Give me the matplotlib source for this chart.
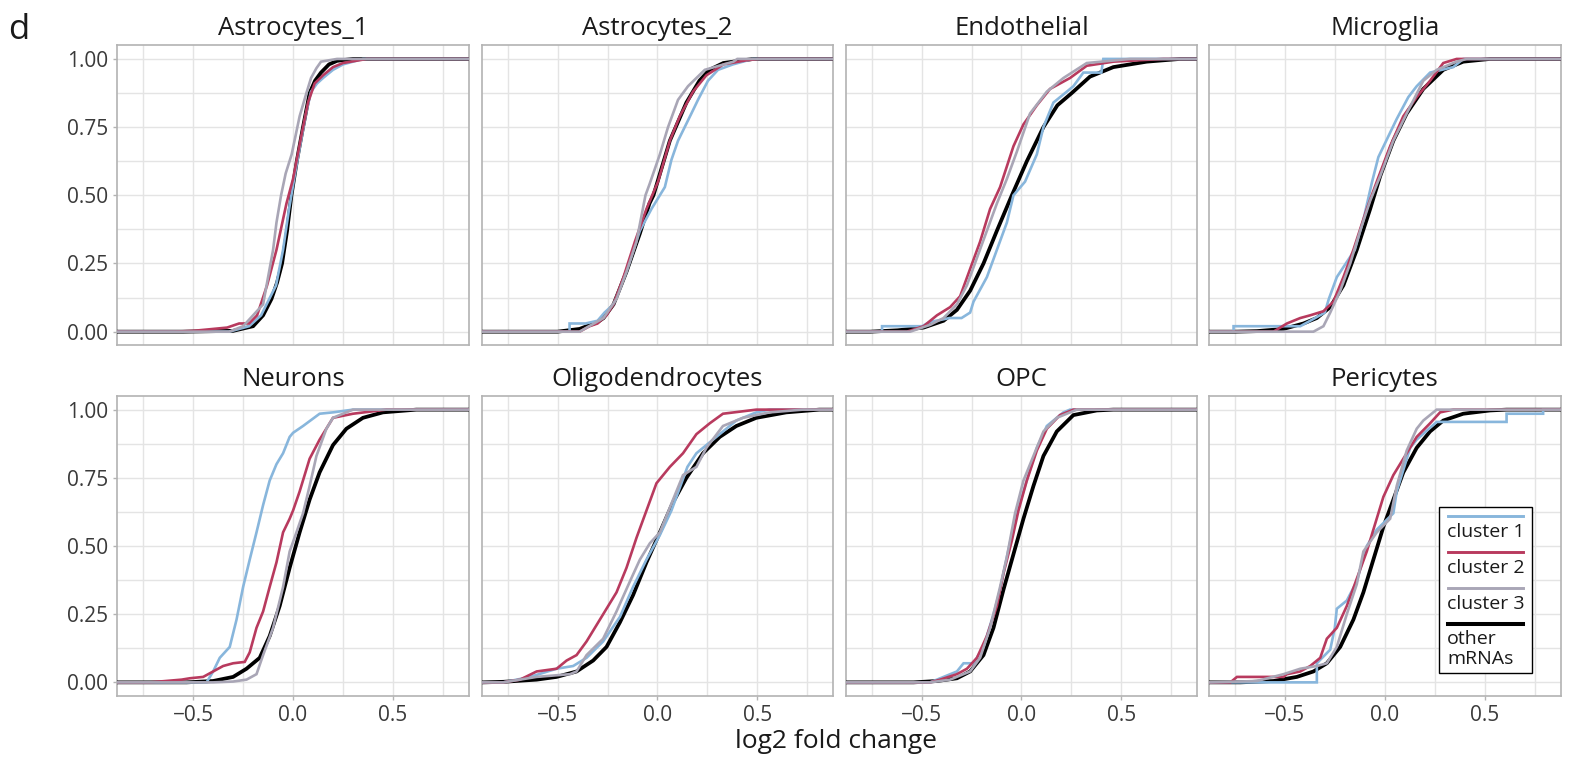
import matplotlib
matplotlib.use("Agg")
import matplotlib.pyplot as plt
from matplotlib.lines import Line2D
from matplotlib.patches import Rectangle
import numpy as np

plt.rcParams['font.family'] = ['Open Sans', 'DejaVu Sans']

# ---- data: points (log2 fold change, cumulative fraction)
panel_names = ["Astrocytes_1", "Astrocytes_2", "Endothelial", "Microglia",
               "Neurons", "Oligodendrocytes", "OPC", "Pericytes"]
series_names = ["cluster 1", "cluster 2", "cluster 3", "other\nmRNAs"]

ast1_other = [(-0.55, 0.0), (-0.3, 0.003), (-0.2, 0.02), (-0.15, 0.06), (-0.108, 0.12), (-0.08, 0.18),
              (-0.055, 0.25), (-0.03, 0.37), (-0.008, 0.5), (0.02, 0.63), (0.05, 0.75), (0.083, 0.875),
              (0.11, 0.92), (0.14, 0.95), (0.18, 0.98), (0.22, 0.993), (0.3, 1.0)]
ast1_c1 = [(-0.32, 0.0), (-0.22, 0.02), (-0.16, 0.06), (-0.085, 0.17), (-0.05, 0.3), (-0.02, 0.45),
           (0.01, 0.58), (0.04, 0.7), (0.065, 0.8), (0.09, 0.88), (0.12, 0.91), (0.15, 0.93),
           (0.2, 0.96), (0.25, 0.98), (0.3, 0.99), (0.35, 1.0)]
ast1_c2 = [(-0.6, 0.0), (-0.5, 0.003), (-0.4, 0.01), (-0.33, 0.015), (-0.27, 0.03), (-0.22, 0.03),
           (-0.18, 0.06), (-0.13, 0.17), (-0.083, 0.3), (-0.033, 0.47), (0.0, 0.56), (0.042, 0.72),
           (0.075, 0.84), (0.108, 0.91), (0.15, 0.94), (0.2, 0.97), (0.25, 0.985), (0.37, 1.0)]
ast1_c3 = [(-0.32, 0.0), (-0.25, 0.02), (-0.2, 0.06), (-0.15, 0.1), (-0.125, 0.2), (-0.1, 0.3),
           (-0.083, 0.4), (-0.06, 0.5), (-0.037, 0.58), (-0.007, 0.65), (0.033, 0.79), (0.067, 0.875),
           (0.09, 0.93), (0.117, 0.966), (0.14, 0.99), (0.22, 1.0)]

ast2_other = [(-0.5, 0.0), (-0.39, 0.01), (-0.3, 0.035), (-0.27, 0.05), (-0.22, 0.1), (-0.155, 0.22),
              (-0.088, 0.36), (-0.04, 0.47), (-0.02, 0.5), (0.062, 0.7), (0.145, 0.84), (0.21, 0.92),
              (0.26, 0.96), (0.33, 0.985), (0.48, 1.0)]
ast2_c1 = [(-0.505, 0.0), (-0.44, 0.0), (-0.44, 0.03), (-0.36, 0.03), (-0.3, 0.04), (-0.265, 0.07),
           (-0.22, 0.1), (-0.155, 0.22), (-0.088, 0.37), (-0.03, 0.45), (0.037, 0.53), (0.07, 0.63),
           (0.103, 0.7), (0.17, 0.8), (0.203, 0.85), (0.253, 0.92), (0.303, 0.96), (0.378, 0.98),
           (0.478, 1.0)]
ast2_c2 = [(-0.55, 0.0), (-0.39, 0.0), (-0.34, 0.02), (-0.3, 0.03), (-0.255, 0.06), (-0.22, 0.1),
           (-0.17, 0.2), (-0.113, 0.33), (-0.055, 0.45), (0.003, 0.55), (0.062, 0.7), (0.112, 0.79),
           (0.178, 0.88), (0.245, 0.94), (0.33, 0.98), (0.445, 0.995), (0.51, 1.0)]
ast2_c3 = [(-0.39, 0.0), (-0.27, 0.05), (-0.205, 0.12), (-0.155, 0.22), (-0.105, 0.33), (-0.06, 0.5),
           (-0.04, 0.54), (0.012, 0.65), (0.053, 0.75), (0.103, 0.85), (0.153, 0.9), (0.237, 0.96),
           (0.38, 0.99), (0.4, 1.0)]

endo_other = [(-0.757, 0.0), (-0.62, 0.005), (-0.49, 0.015), (-0.39, 0.04), (-0.323, 0.08),
              (-0.257, 0.15), (-0.19, 0.25), (-0.123, 0.37), (-0.048, 0.5), (0.027, 0.625),
              (0.11, 0.75), (0.18, 0.83), (0.252, 0.875), (0.343, 0.935), (0.46, 0.97),
              (0.627, 0.99), (0.793, 1.0)]
endo_c1 = [(-0.698, 0.0), (-0.698, 0.02), (-0.498, 0.02), (-0.46, 0.035), (-0.36, 0.05), (-0.3, 0.05),
           (-0.257, 0.07), (-0.24, 0.11), (-0.173, 0.2), (-0.123, 0.3), (-0.073, 0.4), (-0.04, 0.5),
           (0.018, 0.55), (0.077, 0.65), (0.11, 0.75), (0.16, 0.84), (0.227, 0.88), (0.26, 0.9),
           (0.31, 0.95), (0.4, 0.95), (0.41, 1.0)]
endo_c2 = [(-0.573, 0.0), (-0.49, 0.02), (-0.423, 0.06), (-0.357, 0.09), (-0.307, 0.13), (-0.257, 0.23),
           (-0.207, 0.33), (-0.157, 0.45), (-0.107, 0.53), (-0.04, 0.68), (0.01, 0.76), (0.077, 0.83),
           (0.143, 0.89), (0.243, 0.93), (0.327, 0.975), (0.46, 0.99), (0.71, 1.0)]
endo_c3 = [(-0.557, 0.0), (-0.457, 0.025), (-0.39, 0.05), (-0.323, 0.1), (-0.273, 0.17), (-0.223, 0.27),
           (-0.173, 0.37), (-0.123, 0.47), (-0.073, 0.56), (-0.023, 0.66), (0.043, 0.8), (0.127, 0.88),
           (0.21, 0.93), (0.327, 0.985), (0.543, 1.0)]

micro_other = [(-0.75, 0.0), (-0.64, 0.002), (-0.507, 0.01), (-0.407, 0.03), (-0.34, 0.05),
               (-0.273, 0.09), (-0.207, 0.17), (-0.14, 0.3), (-0.073, 0.45), (-0.023, 0.57),
               (0.043, 0.7), (0.11, 0.8), (0.193, 0.89), (0.293, 0.96), (0.393, 0.99), (0.527, 1.0)]
micro_c1 = [(-0.757, 0.0), (-0.757, 0.02), (-0.423, 0.02), (-0.373, 0.04), (-0.3, 0.07), (-0.28, 0.12),
            (-0.24, 0.2), (-0.15, 0.3), (-0.107, 0.41), (-0.065, 0.545), (-0.032, 0.64), (0.027, 0.73),
            (0.06, 0.78), (0.118, 0.86), (0.16, 0.9), (0.227, 0.95), (0.343, 0.97), (0.393, 1.0)]
micro_c2 = [(-0.557, 0.0), (-0.49, 0.03), (-0.423, 0.05), (-0.373, 0.06), (-0.307, 0.075), (-0.257, 0.11),
            (-0.207, 0.2), (-0.157, 0.3), (-0.09, 0.45), (-0.04, 0.55), (0.027, 0.68), (0.093, 0.79),
            (0.16, 0.86), (0.227, 0.92), (0.293, 0.985), (0.36, 1.0)]
micro_c3 = [(-0.357, 0.0), (-0.307, 0.02), (-0.273, 0.07), (-0.223, 0.15), (-0.173, 0.25), (-0.123, 0.37),
            (-0.073, 0.48), (-0.023, 0.57), (0.043, 0.7), (0.11, 0.8), (0.193, 0.92), (0.26, 0.96),
            (0.36, 0.99), (0.41, 1.0)]

neur_other = [(-0.533, 0.0), (-0.4, 0.005), (-0.3, 0.02), (-0.233, 0.05), (-0.167, 0.09), (-0.117, 0.17),
              (-0.067, 0.28), (-0.017, 0.42), (0.033, 0.55), (0.083, 0.67), (0.133, 0.77), (0.2, 0.87),
              (0.267, 0.93), (0.35, 0.97), (0.45, 0.99), (0.617, 1.0)]
neur_c1 = [(-0.433, 0.0), (-0.4, 0.04), (-0.367, 0.09), (-0.317, 0.13), (-0.283, 0.23), (-0.25, 0.35),
           (-0.217, 0.45), (-0.183, 0.55), (-0.15, 0.65), (-0.117, 0.74), (-0.083, 0.8), (-0.05, 0.84),
           (-0.017, 0.9), (0.0, 0.915), (0.05, 0.94), (0.133, 0.985), (0.2, 0.99), (0.3, 1.0)]
neur_c2 = [(-0.717, 0.0), (-0.558, 0.01), (-0.517, 0.015), (-0.45, 0.02), (-0.4, 0.04), (-0.35, 0.06),
           (-0.3, 0.07), (-0.242, 0.075), (-0.217, 0.11), (-0.183, 0.2), (-0.15, 0.26), (-0.117, 0.35),
           (-0.083, 0.44), (-0.05, 0.55), (-0.017, 0.6), (0.0, 0.63), (0.033, 0.7), (0.083, 0.82),
           (0.133, 0.89), (0.2, 0.97), (0.3, 0.985), (0.467, 1.0)]
neur_c3 = [(-0.4, 0.0), (-0.3, 0.003), (-0.233, 0.01), (-0.183, 0.03), (-0.15, 0.1), (-0.1, 0.2),
           (-0.05, 0.35), (-0.017, 0.48), (0.017, 0.55), (0.05, 0.62), (0.083, 0.72), (0.117, 0.83),
           (0.167, 0.93), (0.2, 0.97), (0.3, 1.0)]

olig_other = [(-0.872, 0.0), (-0.772, 0.002), (-0.605, 0.01), (-0.505, 0.02), (-0.405, 0.04),
              (-0.322, 0.08), (-0.255, 0.13), (-0.188, 0.22), (-0.122, 0.32), (-0.055, 0.44),
              (0.012, 0.55), (0.078, 0.66), (0.145, 0.75), (0.228, 0.84), (0.312, 0.9), (0.395, 0.94),
              (0.495, 0.97), (0.645, 0.99), (0.81, 1.0)]
olig_c1 = [(-0.772, 0.0), (-0.638, 0.02), (-0.505, 0.05), (-0.422, 0.06), (-0.355, 0.09), (-0.272, 0.15),
           (-0.188, 0.24), (-0.122, 0.35), (-0.055, 0.45), (0.012, 0.54), (0.07, 0.63), (0.15, 0.79),
           (0.195, 0.84), (0.295, 0.9), (0.395, 0.96), (0.495, 0.99), (0.56, 1.0)]
olig_c2 = [(-0.772, 0.0), (-0.688, 0.01), (-0.605, 0.04), (-0.505, 0.05), (-0.455, 0.08), (-0.405, 0.1),
           (-0.355, 0.15), (-0.305, 0.21), (-0.255, 0.27), (-0.205, 0.33), (-0.155, 0.42), (-0.105, 0.53),
           (-0.055, 0.63), (-0.005, 0.73), (0.062, 0.79), (0.128, 0.84), (0.195, 0.91), (0.262, 0.95),
           (0.328, 0.985), (0.495, 1.0)]
olig_c3 = [(-0.772, 0.0), (-0.605, 0.02), (-0.438, 0.03), (-0.405, 0.04), (-0.355, 0.1), (-0.272, 0.16),
           (-0.205, 0.26), (-0.138, 0.37), (-0.088, 0.45), (-0.038, 0.51), (0.012, 0.55), (0.078, 0.67),
           (0.128, 0.76), (0.195, 0.79), (0.245, 0.86), (0.328, 0.94), (0.428, 0.97), (0.562, 0.99),
           (0.728, 1.0)]

opc_other = [(-0.54, 0.0), (-0.423, 0.005), (-0.323, 0.015), (-0.257, 0.04), (-0.19, 0.1), (-0.14, 0.2),
             (-0.09, 0.34), (-0.04, 0.47), (0.01, 0.6), (0.06, 0.72), (0.11, 0.83), (0.177, 0.92),
             (0.26, 0.98), (0.377, 0.997), (0.46, 1.0)]
opc_c1 = [(-0.457, 0.0), (-0.39, 0.02), (-0.323, 0.04), (-0.29, 0.07), (-0.24, 0.07), (-0.19, 0.13),
          (-0.14, 0.25), (-0.107, 0.34), (-0.073, 0.46), (-0.04, 0.57), (-0.007, 0.66), (0.043, 0.78),
          (0.077, 0.86), (0.127, 0.94), (0.21, 0.99), (0.243, 1.0)]
opc_c2 = [(-0.457, 0.0), (-0.407, 0.01), (-0.323, 0.03), (-0.273, 0.05), (-0.223, 0.09), (-0.173, 0.17),
          (-0.123, 0.28), (-0.09, 0.4), (-0.048, 0.52), (-0.015, 0.63), (0.027, 0.74), (0.077, 0.85),
          (0.127, 0.93), (0.193, 0.98), (0.26, 1.0)]
opc_c3 = [(-0.457, 0.0), (-0.357, 0.01), (-0.257, 0.04), (-0.207, 0.09), (-0.157, 0.2), (-0.107, 0.35),
          (-0.073, 0.46), (-0.032, 0.62), (0.01, 0.74), (0.06, 0.83), (0.11, 0.92), (0.177, 0.97),
          (0.277, 1.0)]

peri_other = [(-0.723, 0.0), (-0.557, 0.005), (-0.44, 0.02), (-0.357, 0.04), (-0.29, 0.07), (-0.223, 0.13),
              (-0.157, 0.23), (-0.107, 0.33), (-0.057, 0.45), (-0.007, 0.57), (0.043, 0.67), (0.093, 0.77),
              (0.16, 0.86), (0.227, 0.92), (0.293, 0.96), (0.393, 0.985), (0.527, 0.997), (0.61, 1.0)]
peri_c1 = [(-0.873, 0.0), (-0.34, 0.0), (-0.34, 0.07), (-0.273, 0.12), (-0.25, 0.2), (-0.24, 0.27),
           (-0.19, 0.3), (-0.14, 0.37), (-0.09, 0.5), (-0.04, 0.56), (0.043, 0.62), (0.06, 0.7),
           (0.127, 0.86), (0.16, 0.89), (0.26, 0.955), (0.61, 0.955), (0.61, 0.985), (0.793, 0.985),
           (0.793, 1.0)]
peri_c2 = [(-0.773, 0.0), (-0.74, 0.02), (-0.507, 0.02), (-0.49, 0.03), (-0.423, 0.04), (-0.373, 0.06),
           (-0.323, 0.09), (-0.29, 0.16), (-0.24, 0.2), (-0.19, 0.28), (-0.14, 0.38), (-0.09, 0.48),
           (-0.057, 0.56), (-0.007, 0.68), (0.043, 0.76), (0.093, 0.82), (0.16, 0.9), (0.227, 0.95),
           (0.277, 0.99), (0.343, 1.0)]
peri_c3 = [(-0.873, 0.0), (-0.64, 0.005), (-0.507, 0.03), (-0.423, 0.05), (-0.34, 0.06), (-0.29, 0.07),
           (-0.24, 0.13), (-0.19, 0.25), (-0.14, 0.36), (-0.107, 0.48), (-0.04, 0.55), (0.027, 0.6),
           (0.06, 0.72), (0.11, 0.85), (0.16, 0.93), (0.193, 0.96), (0.26, 1.0)]

panel_series = [
    [ast1_c1, ast1_c2, ast1_c3, ast1_other],
    [ast2_c1, ast2_c2, ast2_c3, ast2_other],
    [endo_c1, endo_c2, endo_c3, endo_other],
    [micro_c1, micro_c2, micro_c3, micro_other],
    [neur_c1, neur_c2, neur_c3, neur_other],
    [olig_c1, olig_c2, olig_c3, olig_other],
    [opc_c1, opc_c2, opc_c3, opc_other],
    [peri_c1, peri_c2, peri_c3, peri_other],
]

colors = ["#88b6dc", "#b83a5e", "#a9a6b6", "#000000"]
widths = [1.9, 1.9, 1.9, 2.7]
zorders = [4, 5, 6, 3]

# ---- layout (pixels)
W, H = 1573, 759
fig = plt.figure(figsize=(W / 100, H / 100), dpi=100)
col_left = [117.3, 481.7, 845.7, 1209.0]
row_top = [45.3, 396.0]
ax_w, ax_h = 351.5, 300.0

XLIM = (-0.88, 0.88)
YLIM = (-0.05, 1.05)
text_col = "#3a3a3a"

for i, name in enumerate(panel_names):
    r, c = divmod(i, 4)
    ax = fig.add_axes([col_left[c] / W, 1 - (row_top[r] + ax_h) / H, ax_w / W, ax_h / H])
    ax.set_xlim(XLIM)
    ax.set_ylim(YLIM)
    ax.set_xticks([-0.5, 0.0, 0.5])
    ax.set_xticks([-0.75, -0.25, 0.25, 0.75], minor=True)
    ax.set_yticks([0, 0.25, 0.5, 0.75, 1.0])
    ax.set_yticks([0.125, 0.375, 0.625, 0.875], minor=True)
    ax.grid(True, which="both", color="#e4e4e4", linewidth=1.0)
    ax.set_axisbelow(True)
    for sp in ax.spines.values():
        sp.set_color("#b3b3b3")
        sp.set_linewidth(1.2)
    ax.tick_params(which="minor", length=0)
    ax.tick_params(which="major", length=3, width=1.0, color="#b3b3b3",
                   labelsize=15, labelcolor=text_col, pad=3.5)
    if c == 0:
        ax.set_yticklabels(["0.00", "0.25", "0.50", "0.75", "1.00"])
    else:
        ax.tick_params(axis="y", length=0, labelleft=False)
    if r == 1:
        ax.set_xticklabels(["\u22120.5", "0.0", "0.5"])
    else:
        ax.tick_params(axis="x", length=0, labelbottom=False)

    for k, pts in enumerate(panel_series[i]):
        xs = [XLIM[0]] + [p[0] for p in pts] + [XLIM[1]]
        ys = [0.0] + [p[1] for p in pts] + [1.0]
        ax.plot(xs, ys, color=colors[k], lw=widths[k], zorder=zorders[k],
                solid_joinstyle="miter")

    ax.annotate(name, xy=(0.5, 1.0), xycoords="axes fraction", xytext=(0, 3),
                textcoords="offset points", ha="center", va="bottom",
                fontsize=18.5, color="#1a1a1a")

# panel letter and shared x label
fig.text(8 / W, 1 - 39 / H, "d", fontsize=25, color="#1a1a1a", va="baseline", ha="left")
fig.text(836 / W, 1 - 729 / H, "log2 fold change", fontsize=19, color="#1a1a1a",
         ha="center", va="top")

# legend drawn inside the Pericytes panel
box = Rectangle((1439 / W, 1 - 673 / H), 93 / W, 166 / H, transform=fig.transFigure,
                facecolor="white", edgecolor="black", linewidth=1.0, zorder=10)
fig.add_artist(box)
key_y = [516, 552, 587.5, 623.5]
lab_y = [[532], [568], [604], [639, 659]]
for k, lbl in enumerate(series_names):
    fig.add_artist(Line2D([1448 / W, 1522.5 / W], [1 - key_y[k] / H] * 2,
                          transform=fig.transFigure, color=colors[k], lw=widths[k] + 0.2, zorder=11))
    for line, yy in zip(lbl.split("\n"), lab_y[k]):
        fig.text(1447 / W, 1 - yy / H, line, fontsize=14, color="#1a1a1a",
                 ha="left", va="center", zorder=12)

fig.savefig("out.png", dpi=100)
